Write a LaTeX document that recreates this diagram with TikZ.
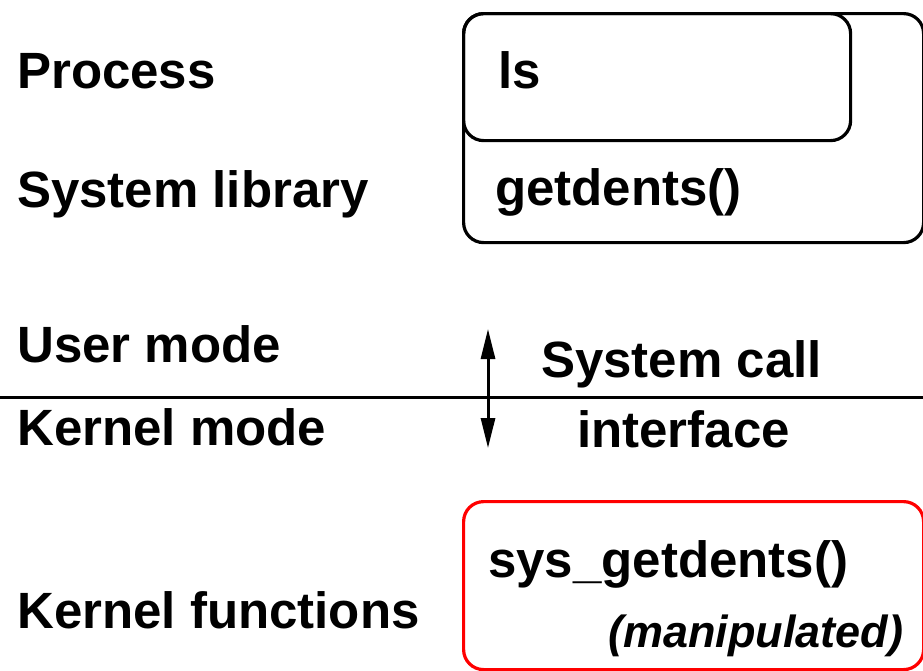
\documentclass[tikz,border=0pt]{standalone}
\usepackage{fontspec}
\setmainfont{Liberation Sans}
\usetikzlibrary{arrows.meta}
\begin{document}
\begin{tikzpicture}[x=1pt,y=-1pt,
  label/.style={anchor=base west, inner sep=0pt, font=\fontsize{51}{61}\selectfont\bfseries},
  note/.style={anchor=base west, inner sep=0pt, font=\fontsize{45}{54}\selectfont\bfseries\itshape},
  frame/.style={draw, line width=3.2pt, rounded corners=20pt, anchor=north west, inner sep=0pt},
  link/.style={line width=3pt, {Triangle[length=30pt,width=14pt]}-{Triangle[length=30pt,width=14pt]}}
]
\useasboundingbox (0,0) rectangle (923,670);

% user-space boxes
\node[frame, minimum width=460pt, minimum height=229pt] (libbox) at (462,12) {};
\node[frame, minimum width=387pt, minimum height=127pt] (procbox) at (462,12) {};
% kernel box
\node[frame, draw=red, minimum width=460pt, minimum height=168pt] (kbox) at (462,500) {};

% layer names
\node[label] (process) at (17,88) {Process};
\node[label] (syslib) at (17,207) {System library};
\node[label] (user) at (17,362) {User mode};
\node[label] (kernel) at (17,445) {Kernel mode};
\node[label] (kfuncs) at (17,628) {Kernel functions};

% box contents
\node[label] (ls) at (498,88) {ls};
\node[label] (getdents) at (495,205) {getdents()};
\node[label] (sysget) at (488,577) {sys\_getdents()};
\node[note] (manip) at (608,647) {(manipulated)};

% user/kernel boundary
\coordinate (lineL) at (0,397);
\coordinate (lineR) at (923,397);
\draw[line width=3pt] (lineL) -- (lineR);

% system call interface
\node[label] (scall) at (541,377) {System call};
\node[label] (iface) at (577,447) {interface};
\coordinate (up) at (488,329);
\coordinate (down) at (488,448);
\draw[link] (down) -- (up);
\end{tikzpicture}
\end{document}
